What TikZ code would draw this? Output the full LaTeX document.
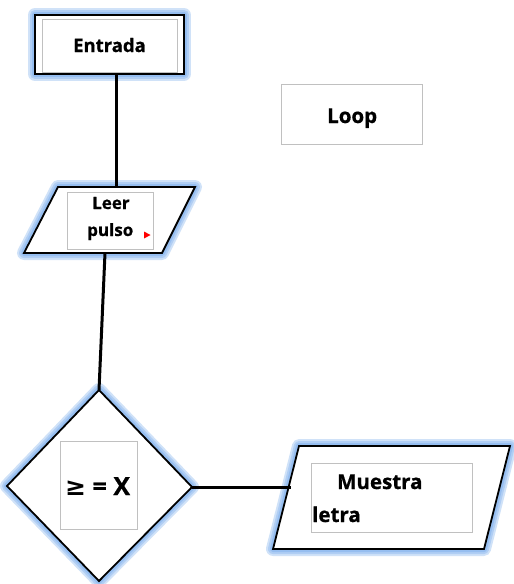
\documentclass[tikz,border=0pt]{standalone}
\usepackage{fontspec}
\setmainfont{Open Sans}[BoldFeatures={FakeBold=0.8}]
\newfontfamily\symfont{DejaVu Sans}
\definecolor{glowc}{RGB}{150,190,240}
\definecolor{boxgray}{RGB}{192,192,192}
\begin{document}
\begin{tikzpicture}[x=1pt,y=-1pt,
  glowA/.style={draw=glowc!45!white,line width=14pt,line join=round},
  glowB/.style={draw=glowc!75!white,line width=10pt,line join=round},
  glowC/.style={draw=glowc,line width=6pt,line join=round},
  shapeline/.style={draw=black,fill=white,line width=1.8pt,line join=miter},
  innerbox/.style={draw=boxgray,line width=0.9pt},
  conn/.style={draw=black,line width=3pt},
  lbl/.style={font=\bfseries,inner sep=0pt,anchor=base west}]
\useasboundingbox (0,0) rectangle (514,584);
% ---- Entrada
\coordinate (e1) at (35,15); \coordinate (e2) at (184,15);
\coordinate (e3) at (184,74); \coordinate (e4) at (35,74);
\foreach \s in {glowA,glowB,glowC} \path[\s] (e1)--(e2)--(e3)--(e4)--cycle;
\path[shapeline,line width=2.4pt] (e1)--(e2)--(e3)--(e4)--cycle;
\draw[innerbox] (42,19) rectangle (177,72);
\node[lbl,font=\bfseries\fontsize{18.5}{20}\selectfont] (entrada) at (73,52) {Entrada};
\coordinate (entB) at (116,74);
% ---- Loop
\draw[innerbox] (281,84) rectangle (422,144);
\node[lbl,font=\bfseries\fontsize{20.5}{22}\selectfont] (loop) at (327,123) {Loop};
% ---- Leer pulso
\coordinate (l1) at (58,187); \coordinate (l2) at (195,187);
\coordinate (l3) at (162,253); \coordinate (l4) at (24,253);
\foreach \s in {glowA,glowB,glowC} \path[\s] (l1)--(l2)--(l3)--(l4)--cycle;
\path[shapeline] (l1)--(l2)--(l3)--(l4)--cycle;
\draw[innerbox] (67,192) rectangle (153,249);
\node[lbl,font=\bfseries\fontsize{17}{19}\selectfont] (leer) at (92,209) {Leer};
\node[lbl,font=\bfseries\fontsize{17}{19}\selectfont] (pulso) at (87,236) {pulso};
\fill[red] (144,231.5) -- (150.5,235) -- (144,238.5) -- cycle;
\coordinate (leerT) at (116,187);
\coordinate (leerB) at (105,253);
% ---- Diamond
\coordinate (dT) at (99,390); \coordinate (dR) at (192,487);
\coordinate (dB) at (99,581); \coordinate (dL) at (7,486);
\foreach \s in {glowA,glowB,glowC} \path[\s] (dT)--(dR)--(dB)--(dL)--cycle;
\path[shapeline] (dT)--(dR)--(dB)--(dL)--cycle;
\draw[innerbox] (60,441) rectangle (137,529);
\node[lbl,font=\bfseries\fontsize{25}{27}\selectfont] (cond) at (65,495) {{\symfont\bfseries ≥} = X};
% ---- Muestra letra
\coordinate (m1) at (299,446); \coordinate (m2) at (510,446);
\coordinate (m3) at (484,549); \coordinate (m4) at (273,549);
\foreach \s in {glowA,glowB,glowC} \path[\s] (m1)--(m2)--(m3)--(m4)--cycle;
\path[shapeline] (m1)--(m2)--(m3)--(m4)--cycle;
\draw[innerbox] (311,463) rectangle (472,532);
\node[lbl,font=\bfseries\fontsize{20.5}{22}\selectfont] (muestra) at (337,489) {Muestra};
\node[lbl,font=\bfseries\fontsize{20.5}{22}\selectfont] (letra) at (312,522) {letra};
\coordinate (mL) at (291,487);
% ---- connectors
\draw[conn] (entB) -- (leerT);
\draw[conn] (leerB) -- (dT);
\draw[conn] (dR) -- (mL);
\end{tikzpicture}
\end{document}
